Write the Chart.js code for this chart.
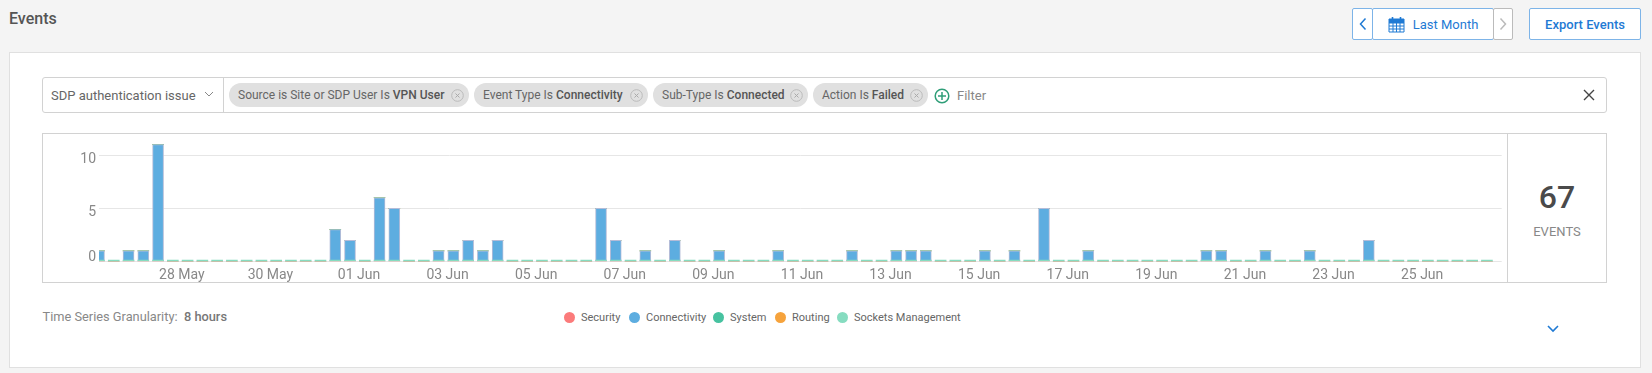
<!DOCTYPE html>
<html>
<head>
<meta charset="utf-8">
<title>Events</title>
<script src="https://cdn.jsdelivr.net/npm/chart.js@4"></script>
<style>
  html, body { margin: 0; padding: 0; }
  body { width: 1652px; height: 373px; background: #f4f4f4; font-family: Roboto, sans-serif; color: #666; position: relative; overflow: hidden; }
  .abs { position: absolute; box-sizing: border-box; white-space: nowrap; }
  .btn { border: 1px solid #7db4e8; background: #fff; color: #1f7ad4; font-size: 13px; display: flex; align-items: center; justify-content: center; border-radius: 2px; }
  .pill { top: 83px; height: 24px; background: #e0e0e0; border-radius: 12px; font-size: 12px; line-height: 24px; color: #666; }
  .pill span { position: absolute; top: 0; left: 9px; }
  .pill svg { position: absolute; top: 6px; right: 5px; }
  .pill b { font-weight: 500; color: #555; }
  #legend div { position: absolute; top: 0; font-size: 11px; line-height: 14px; color: #666; }
  #legend i { position: absolute; top: 312px; width: 11px; height: 11px; border-radius: 50%; }
</style>
</head>
<body>
<div class="abs" style="left:9px;top:9px;font-size:16px;font-weight:500;color:#555;line-height:20px">Events</div>

<div class="abs btn" style="left:1352px;top:8px;width:21px;height:32px">
  <svg width="10" height="14" viewBox="0 0 10 14"><path d="M7.5 1.5 L2.5 7 L7.5 12.5" fill="none" stroke="#1f7ad4" stroke-width="1.5"/></svg>
</div>
<div class="abs btn" style="left:1372px;top:8px;width:122px;height:32px">
  <svg width="17" height="17" viewBox="0 0 17 17" style="margin-right:8px"><path d="M1 3h15v13H1z M1 7h15 M1 10h15 M1 13h15 M5 7v9 M8.5 7v9 M12 7v9" fill="none" stroke="#1f7ad4" stroke-width="1"/><path d="M1 3h15v4H1z" fill="#1f7ad4"/><path d="M4.5 1v3 M12.5 1v3" stroke="#1f7ad4" stroke-width="1.6"/></svg>
  Last Month
</div>
<div class="abs btn" style="left:1493px;top:8px;width:20px;height:32px;border-color:#bbb">
  <svg width="10" height="14" viewBox="0 0 10 14"><path d="M2.5 1.5 L7.5 7 L2.5 12.5" fill="none" stroke="#bbb" stroke-width="1.5"/></svg>
</div>
<div class="abs btn" style="left:1529px;top:8px;width:112px;height:32px;font-weight:500">Export Events</div>

<div class="abs" style="left:9px;top:52px;width:1632px;height:316px;background:#fff;border:1px solid #e0e0e0"></div>

<div class="abs" style="left:42px;top:77px;width:1565px;height:36px;background:#fff;border:1px solid #d2d2d2;border-radius:3px"></div>
<div class="abs" style="left:223px;top:77px;width:1px;height:36px;background:#d2d2d2"></div>
<div class="abs" style="left:51px;top:87px;font-size:13px;line-height:18px;color:#666">SDP authentication issue</div>
<svg class="abs" style="left:204px;top:91px" width="10" height="7" viewBox="0 0 10 7"><path d="M1 1 L5 5 L9 1" fill="none" stroke="#888" stroke-width="1"/></svg>

<div class="abs pill" style="left:229px;width:240px"><span>Source is Site or SDP User Is <b>VPN User</b></span><svg width="13" height="13" viewBox="0 0 13 13"><circle cx="6.5" cy="6.5" r="5.8" fill="none" stroke="#bbb"/><path d="M4.5 4.5l4 4M8.5 4.5l-4 4" stroke="#aaa"/></svg></div>
<div class="abs pill" style="left:474px;width:174px"><span>Event Type Is <b>Connectivity</b></span><svg width="13" height="13" viewBox="0 0 13 13"><circle cx="6.5" cy="6.5" r="5.8" fill="none" stroke="#bbb"/><path d="M4.5 4.5l4 4M8.5 4.5l-4 4" stroke="#aaa"/></svg></div>
<div class="abs pill" style="left:653px;width:155px"><span>Sub-Type Is <b>Connected</b></span><svg width="13" height="13" viewBox="0 0 13 13"><circle cx="6.5" cy="6.5" r="5.8" fill="none" stroke="#bbb"/><path d="M4.5 4.5l4 4M8.5 4.5l-4 4" stroke="#aaa"/></svg></div>
<div class="abs pill" style="left:813px;width:115px"><span>Action Is <b>Failed</b></span><svg width="13" height="13" viewBox="0 0 13 13"><circle cx="6.5" cy="6.5" r="5.8" fill="none" stroke="#bbb"/><path d="M4.5 4.5l4 4M8.5 4.5l-4 4" stroke="#aaa"/></svg></div>
<svg class="abs" style="left:934px;top:88px" width="16" height="16" viewBox="0 0 16 16"><circle cx="8" cy="8" r="6.8" fill="none" stroke="#2f9e78" stroke-width="1.5"/><path d="M8 4v8M4 8h8" stroke="#2f9e78" stroke-width="1.5"/></svg>
<div class="abs" style="left:957px;top:87px;font-size:13px;line-height:18px;color:#888">Filter</div>
<svg class="abs" style="left:1583px;top:89px" width="12" height="12" viewBox="0 0 12 12"><path d="M1 1l10 10M11 1L1 11" stroke="#444" stroke-width="1.4"/></svg>

<div class="abs" style="left:42px;top:133px;width:1565px;height:150px;background:#fff;border:1px solid #d2d2d2"></div>
<div class="abs" style="left:1507px;top:133px;width:1px;height:150px;background:#d2d2d2"></div>
<canvas id="chart" width="1464" height="148" style="position:absolute;left:43px;top:134px"></canvas>
<div class="abs" id="total" style="left:1508px;width:98px;top:177px;text-align:center;font-size:32px;line-height:40px;font-weight:500;color:#4a4a4a"></div>
<div class="abs" style="left:1508px;width:98px;top:223px;text-align:center;font-size:13px;line-height:18px;color:#888">EVENTS</div>

<div class="abs" style="left:42.5px;top:309px;font-size:12.8px;line-height:16px;color:#888">Time Series Granularity:&nbsp; <span style="font-weight:500;color:#777">8 hours</span></div>
<div id="legend"></div>
<svg class="abs" style="left:1547px;top:325px" width="12" height="8" viewBox="0 0 12 8"><path d="M1 1 L6 6 L11 1" fill="none" stroke="#1f7ad4" stroke-width="1.6"/></svg>

<script>
const tickLabels = ['28 May','30 May','01 Jun','03 Jun','05 Jun','07 Jun','09 Jun','11 Jun','13 Jun','15 Jun','17 Jun','19 Jun','21 Jun','23 Jun','25 Jun'];

// one value per 8 hour slot
const connectivity = [
  1,0,1,1,11,0,0,0,0,0,0,0,0,0,0,0,
  3,2,0,6,5,0,0,1,1,2,1,2,0,0,0,0,
  0,0,5,2,0,1,0,2,0,0,1,0,0,0,1,0,
  0,0,0,1,0,0,1,1,1,0,0,0,1,0,1,0,
  5,0,0,1,0,0,0,0,0,0,0,1,1,0,0,1,
  0,0,1,0,0,0,2,0,0,0,0,0,0,0,0,0
];
const noEvents = [
  0,0,0,0,0,0,0,0,0,0,0,0,0,0,0,0,
  0,0,0,0,0,0,0,0,0,0,0,0,0,0,0,0,
  0,0,0,0,0,0,0,0,0,0,0,0,0,0,0,0,
  0,0,0,0,0,0,0,0,0,0,0,0,0,0,0,0,
  0,0,0,0,0,0,0,0,0,0,0,0,0,0,0,0,
  0,0,0,0,0,0,0,0,0,0,0,0,0,0,0,0
];
const seriesNames = ['Security','Connectivity','System','Routing','Sockets Management'];
const seriesColors = ['#fb7b7b','#5dade0','#47c2a0','#f6a33c','#86dcc0'];
const legendX = [564,629,713,775,837];

// a date label every 6th slot, the first one falls on slot 5
const categories = connectivity.map((v, i) => i % 6 == 5 ? tickLabels[(i - 5) / 6] : '');

document.getElementById('total').textContent = connectivity.reduce((a, b) => a + b, 0);

document.getElementById('legend').innerHTML = seriesNames.map((name, i) =>
  `<i style="left:${legendX[i]}px;background:${seriesColors[i]}"></i>` +
  `<div style="left:${legendX[i] + 17}px;top:311px">${name}</div>`
).join('');

const font = { family: 'Roboto', size: 14, lineHeight: 1.2 };

new Chart(document.getElementById('chart'), {
  type: 'bar',
  data: {
    labels: categories,
    datasets: [
      { label: seriesNames[0], data: noEvents, backgroundColor: seriesColors[0], barThickness: 11 },
      { label: seriesNames[1], data: connectivity, backgroundColor: seriesColors[1], borderColor: '#b4bcd8', borderWidth: 1, barThickness: 11 },
      { label: seriesNames[2], data: noEvents, backgroundColor: seriesColors[2], barThickness: 11 },
      { label: seriesNames[3], data: noEvents, backgroundColor: seriesColors[3], barThickness: 11 },
      { label: seriesNames[4], data: noEvents, backgroundColor: seriesColors[4], barThickness: 11, minBarLength: 1.5, order: -1 }
    ]
  },
  options: {
    responsive: false,
    animation: false,
    layout: { padding: { right: 5.3 } },
    plugins: { legend: { display: false }, tooltip: { enabled: false } },
    scales: {
      x: {
        stacked: true,
        offset: false,
        afterFit: s => { s.height = 20.5; s.paddingLeft = 0; s.paddingRight = 0 },
        grid: { display: false, drawTicks: false },
        border: { display: false },
        ticks: { autoSkip: false, maxRotation: 0, minRotation: 0, padding: 6, labelOffset: 9, color: '#888', font }
      },
      y: {
        stacked: true,
        min: 0,
        max: 12,
        afterFit: s => { s.width = 56; s.paddingTop = 0; s.paddingBottom = 0 },
        grid: { color: '#e6e6e6', drawTicks: false },
        border: { display: false },
        ticks: {
          stepSize: 5,
          includeBounds: false,
          labelOffset: 4,
          color: '#888',
          font,
          callback: v => v == 0 ? ['0', ''] : v
        }
      }
    }
  }
});
</script>
</body>
</html>
